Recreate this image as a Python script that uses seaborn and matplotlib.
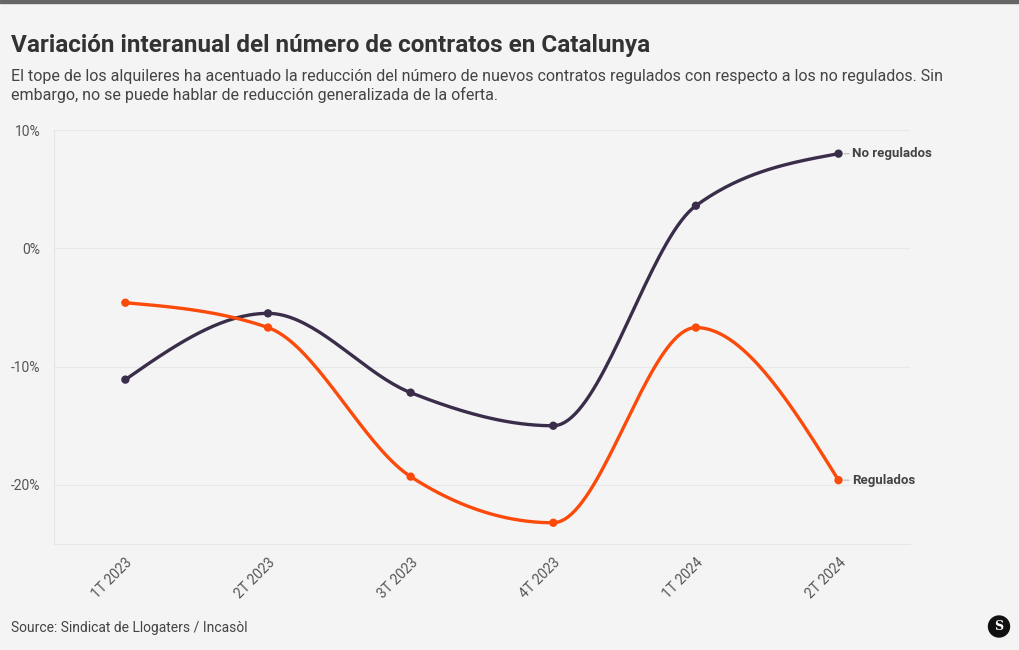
import numpy as np
import pandas as pd
import matplotlib.pyplot as plt
import seaborn as sns
from matplotlib.patches import Circle

# Datos (variación interanual, %)
trimestres = ['1T 2023', '2T 2023', '3T 2023', '4T 2023', '1T 2024', '2T 2024']
no_regulados = [-11.1, -5.5, -12.2, -15.0, 3.6, 8.0]
regulados = [-4.6, -6.7, -19.3, -23.2, -6.7, -19.6]

series = {'No regulados': no_regulados, 'Regulados': regulados}
colores = {'No regulados': '#3a2d4a', 'Regulados': '#fb4a0a'}

FONDO = '#f4f4f4'


# curva monótona tipo d3.curveMonotoneX (solo para el trazo suave)
def curva_monotona(x, y, n=40):
    x = np.asarray(x, float)
    y = np.asarray(y, float)
    h = np.diff(x)
    s = np.diff(y) / h
    t = np.zeros(len(x))
    for i in range(1, len(x) - 1):
        p = (s[i - 1] * h[i] + s[i] * h[i - 1]) / (h[i - 1] + h[i])
        t[i] = (np.sign(s[i - 1]) + np.sign(s[i])) * min(abs(s[i - 1]), abs(s[i]), 0.5 * abs(p))
    t[0] = (3 * s[0] - t[1]) / 2
    t[-1] = (3 * s[-1] - t[-2]) / 2
    xs, ys = [], []
    for i in range(len(x) - 1):
        u = np.linspace(0, 1, n)
        dx = h[i] / 3
        p0, p1 = (x[i], y[i]), (x[i] + dx, y[i] + dx * t[i])
        p2, p3 = (x[i + 1] - dx, y[i + 1] - dx * t[i + 1]), (x[i + 1], y[i + 1])
        bx = (1 - u) ** 3 * p0[0] + 3 * (1 - u) ** 2 * u * p1[0] + 3 * (1 - u) * u ** 2 * p2[0] + u ** 3 * p3[0]
        by = (1 - u) ** 3 * p0[1] + 3 * (1 - u) ** 2 * u * p1[1] + 3 * (1 - u) * u ** 2 * p2[1] + u ** 3 * p3[1]
        xs.extend(bx)
        ys.extend(by)
    return np.array(xs), np.array(ys)


sns.set_theme(style='white')
plt.rcParams['font.family'] = ['Roboto', 'DejaVu Sans']

fig = plt.figure(figsize=(10.2, 6.5), dpi=100, facecolor=FONDO)
ax = fig.add_axes([0.053, 0.163, 0.839, 0.637])
ax.set_facecolor(FONDO)

pos = np.arange(len(trimestres))
for nombre, valores in series.items():
    cx, cy = curva_monotona(pos, valores)
    sns.lineplot(x=cx, y=cy, ax=ax, color=colores[nombre], linewidth=2.4, sort=False, estimator=None)
    sns.scatterplot(x=pos, y=valores, ax=ax, color=colores[nombre], s=36, edgecolor='none', zorder=5)
    ax.annotate(nombre, xy=(pos[-1], valores[-1]), xytext=(10, 0), textcoords='offset points',
                va='center', ha='left', fontsize=9.5, fontweight='bold', color='#444444',
                arrowprops=dict(arrowstyle='-', color='#bbbbbb', lw=0.8, shrinkA=0, shrinkB=4))

ax.set_xlim(-0.5, len(trimestres) - 0.5)
ax.set_ylim(-25, 10)
ax.set_yticks([10, 0, -10, -20])
ax.set_yticklabels(['10%', '0%', '-10%', '-20%'])
ax.set_xticks(pos)
ax.set_xticklabels(trimestres, rotation=45, ha='right', rotation_mode='anchor')
ax.tick_params(axis='both', length=0, labelsize=10, labelcolor='#555555')
ax.tick_params(axis='x', pad=8)
ax.tick_params(axis='y', pad=10)
ax.grid(axis='y', color='#e8e8e8', linewidth=0.8)
for lado in ['top', 'right']:
    ax.spines[lado].set_visible(False)
for lado in ['left', 'bottom']:
    ax.spines[lado].set_color('#e6e6e6')
    ax.spines[lado].set_linewidth(0.8)
ax.set_xlabel('')
ax.set_ylabel('')

# barra superior
fig.add_artist(plt.Rectangle((0, 0.995), 1, 0.005, transform=fig.transFigure, color='#666666'))

fig.text(0.011, 0.930, 'Variación interanual del número de contratos en Catalunya',
         fontsize=17.5, fontweight='bold', color='#333333', va='center')
fig.text(0.011, 0.868, 'El tope de los alquileres ha acentuado la reducción del número de nuevos contratos '
         'regulados con respecto a los no regulados. Sin\nembargo, no se puede hablar de reducción '
         'generalizada de la oferta.', fontsize=11.5, color='#444444', va='center', linespacing=1.25)
fig.text(0.011, 0.034, 'Source: Sindicat de Llogaters / Incasòl', fontsize=10, color='#444444', va='center')

# logo
logo = Circle((9.99, 0.235), 0.105, transform=fig.dpi_scale_trans, color='#111111')
fig.add_artist(logo)
fig.text(999 / 1020, 0.036, 'S', fontsize=9, fontweight='bold', color='white', ha='center', va='center',
         family=['DejaVu Serif'])

fig.savefig('out.png', dpi=100, facecolor=FONDO)
